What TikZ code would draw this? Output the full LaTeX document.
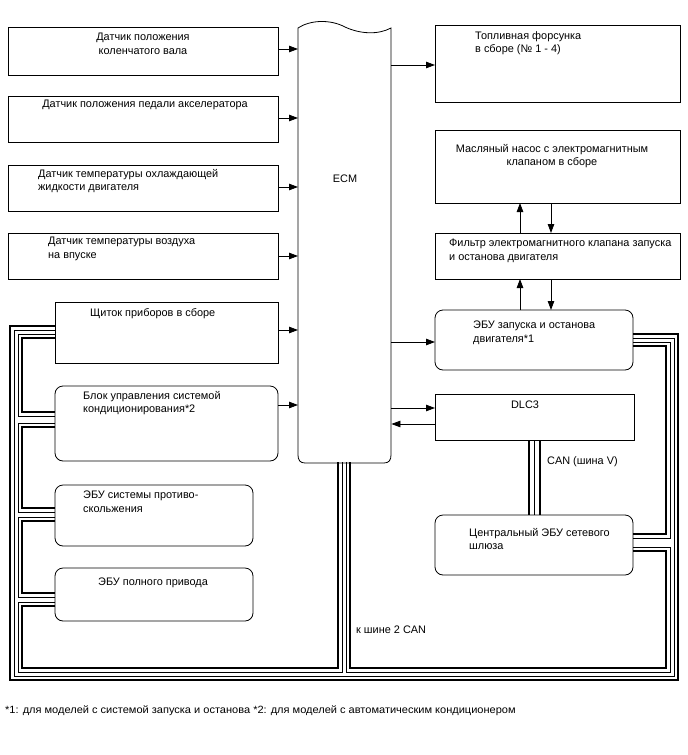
\documentclass[tikz,border=0pt]{standalone}
\usepackage{fontspec}
\setmainfont{Liberation Sans}
\usetikzlibrary{arrows.meta}
\newcommand{\fs}{\fontsize{10.9}{13.5}\selectfont}
\begin{document}
\begin{tikzpicture}[x=1pt,y=-1pt,
  box/.style={draw, line width=0.8pt, inner sep=0pt, outer sep=0pt, anchor=north west},
  rbox/.style={box, rounded corners=8pt},
  txt/.style={font=\fs, align=left, inner sep=0pt, anchor=north west},
  ctxt/.style={font=\fs, align=center, inner sep=0pt, anchor=north},
  arr/.style={-{Triangle[length=9pt,width=6.5pt]}, line width=0.8pt},
  thk/.style={line width=2.3pt},
  thn/.style={line width=0.8pt}]
\useasboundingbox (0,0) rectangle (688,755);
% left column
\node[box, minimum width=270pt, minimum height=48pt] (b1) at (8,27) {};
\node[ctxt] (t1) at (143,33) {Датчик положения\\коленчатого вала};
\node[box, minimum width=270pt, minimum height=46pt] (b2) at (8,96) {};
\node[ctxt] (t2) at (145,100) {Датчик положения педали акселератора};
\node[box, minimum width=270pt, minimum height=46pt] (b3) at (8,165) {};
\node[txt] (t3) at (38,169) {Датчик температуры охлаждающей\\жидкости двигателя};
\node[box, minimum width=270pt, minimum height=46pt] (b4) at (8,233) {};
\node[txt] (t4) at (48,237) {Датчик температуры воздуха\\на впуске};
\node[box, minimum width=223pt, minimum height=61pt] (b5) at (55,302) {};
\node[txt] (t5) at (90,308) {Щиток приборов в сборе};
\node[rbox, minimum width=223pt, minimum height=75pt] (b6) at (55,386) {};
\node[txt] (t6) at (83,391) {Блок управления системой\\кондиционирования*2};
\node[rbox, minimum width=198pt, minimum height=61pt] (b7) at (55,485) {};
\node[txt] (t7) at (83,491) {ЭБУ системы противо-\\скольжения};
\node[rbox, minimum width=198pt, minimum height=53pt] (b8) at (55,568) {};
\node[txt] (t8) at (98,578) {ЭБУ полного привода};
% ECM
\node[inner sep=0pt, minimum width=93pt, minimum height=440pt, anchor=north west] (ecm) at (298,22) {};
\draw[line width=0.8pt] (298,28) .. controls (310,20) and (330,19) .. (345,27)
  .. controls (360,34) and (378,35) .. (391,28) -- (391,455)
  .. controls (391,460) and (389,463) .. (384,463) -- (305,463)
  .. controls (300,463) and (298,460) .. (298,455) -- cycle;
\node[font=\fs, inner sep=0pt] (ecmt) at (345,179) {ECM};
% right column
\node[box, minimum width=245pt, minimum height=77pt] (r1) at (435,25) {};
\node[txt] (tr1) at (475,31) {Топливная форсунка\\в сборе (№ 1 - 4)};
\node[box, minimum width=245pt, minimum height=73pt] (r2) at (435,130) {};
\node[ctxt] (tr2) at (552,144) {Масляный насос с электромагнитным\\клапаном в сборе};
\node[box, minimum width=245pt, minimum height=46pt] (r3) at (435,233) {};
\node[txt] (tr3) at (449,239) {Фильтр электромагнитного клапана запуска\\и останова двигателя};
\node[rbox, minimum width=198pt, minimum height=60pt] (r4) at (435,310) {};
\node[txt] (tr4) at (473,321) {ЭБУ запуска и останова\\двигателя*1};
\node[box, minimum width=199pt, minimum height=46pt] (r5) at (435,394) {};
\node[ctxt] (tr5) at (525,401) {DLC3};
\node[rbox, minimum width=198pt, minimum height=60pt] (r6) at (435,515) {};
\node[txt] (tr6) at (469,528) {Центральный ЭБУ сетевого\\шлюза};
% arrows left -> ECM
\draw[arr] (b1.east |- 0,49) -- (ecm.west |- 0,49);
\draw[arr] (b2.east |- 0,118) -- (ecm.west |- 0,118);
\draw[arr] (b3.east |- 0,187) -- (ecm.west |- 0,187);
\draw[arr] (b4.east |- 0,256) -- (ecm.west |- 0,256);
\draw[arr] (b5.east |- 0,330) -- (ecm.west |- 0,330);
\draw[arr] (b6.east |- 0,405) -- (ecm.west |- 0,405);
% arrows ECM -> right
\draw[arr] (ecm.east |- 0,65) -- (r1.west |- 0,65);
\draw[arr] (ecm.east |- 0,342) -- (r4.west |- 0,342);
\draw[arr] (ecm.east |- 0,408) -- (r5.west |- 0,408);
\draw[arr] (r5.west |- 0,424) -- (ecm.east |- 0,424);
% pump / filter / ECU arrows
\draw[arr] (r3.north -| 520,0) -- (r2.south -| 520,0);
\draw[arr] (r2.south -| 551,0) -- (r3.north -| 551,0);
\draw[arr] (r4.north -| 520,0) -- (r3.south -| 520,0);
\draw[arr] (r3.south -| 551,0) -- (r4.north -| 551,0);
% CAN V
\draw[thk] (r5.south -| 529,0) -- (r6.north -| 529,0);
\draw[thn] (r5.south -| 534.5,0) -- (r6.north -| 534.5,0);
\draw[thk] (r5.south -| 540,0) -- (r6.north -| 540,0);
\node[txt] (can) at (547,456) {CAN (шина V)};
% outer pair
\draw[thk] (b5.west |- 0,326) -- (10,326) -- (10,680) -- (678,680) -- (678,334) -- (r4.east |- 0,334);
\draw[thn] (b5.west |- 0,330) -- (14,330) -- (14,676) -- (674,676) -- (674,338) -- (r4.east |- 0,338);
% left chain
\draw[thn] (b5.west |- 0,334) -- (18,334) -- (18,416) -- (b6.west |- 0,416);
\draw[thk] (b5.west |- 0,338) -- (22,338) -- (22,412) -- (b6.west |- 0,412);
\draw[thn] (b6.west |- 0,423) -- (18,423) -- (18,512) -- (b7.west |- 0,512);
\draw[thk] (b6.west |- 0,427) -- (22,427) -- (22,508) -- (b7.west |- 0,508);
\draw[thn] (b7.west |- 0,517) -- (18,517) -- (18,597) -- (b8.west |- 0,597);
\draw[thk] (b7.west |- 0,521) -- (22,521) -- (22,593) -- (b8.west |- 0,593);
\draw[thn] (b8.west |- 0,602) -- (18,602) -- (18,672) -- (342,672) -- (ecm.south -| 342,0);
\draw[thk] (b8.west |- 0,606) -- (22,606) -- (22,668) -- (338,668) -- (ecm.south -| 338,0);
% right chain
\draw[thn] (r4.east |- 0,342) -- (670,342) -- (670,538) -- (r6.east |- 0,538);
\draw[thk] (r4.east |- 0,346) -- (666,346) -- (666,534) -- (r6.east |- 0,534);
\draw[thn] (r6.east |- 0,547) -- (670,547) -- (670,672) -- (346,672) -- (ecm.south -| 346,0);
\draw[thk] (r6.east |- 0,551) -- (666,551) -- (666,668) -- (350,668) -- (ecm.south -| 350,0);
\node[txt] (bus2) at (356,626) {к шине 2 CAN};
% footnote
\node[inner sep=0pt, anchor=west] (fn) at (5,711) {\fontsize{10.5}{12}\selectfont\scalebox{1.05}[1]{*1: для моделей с системой запуска и останова *2: для моделей с автоматическим кондиционером}};
\end{tikzpicture}
\end{document}
